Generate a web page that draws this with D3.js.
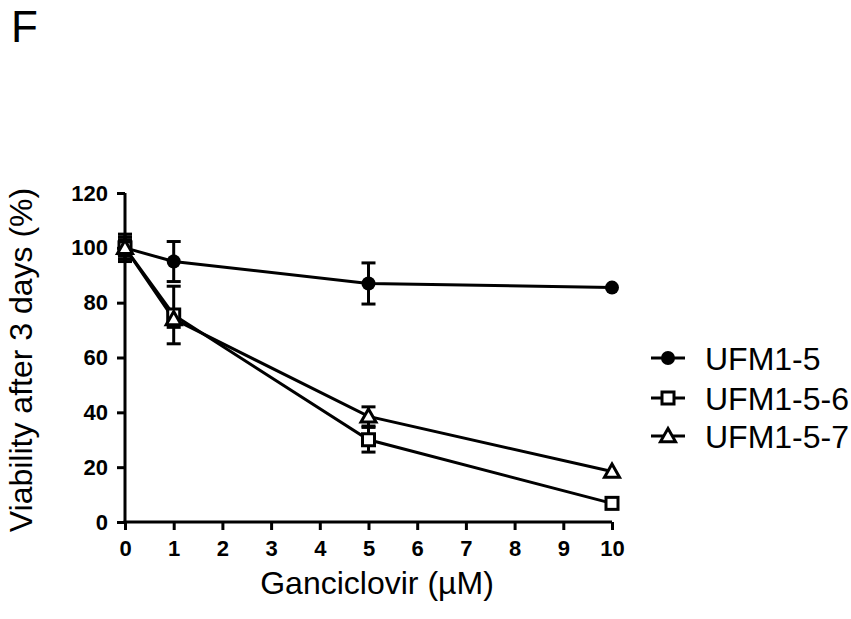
<!DOCTYPE html>
<html>
<head>
<meta charset="utf-8">
<script src="https://d3js.org/d3.v7.min.js"></script>
<style>
body { margin: 0; background: #fff; }
text { font-family: Arial, "Liberation Sans", sans-serif; fill: #000; }
</style>
</head>
<body>
<svg id="chart" width="851" height="619"></svg>
<script>
// doses and series values
var doses = [0, 1, 5, 10];
var seriesNames = ["UFM1-5", "UFM1-5-6", "UFM1-5-7"];
var symbols = ["circle", "square", "triangle"];
var ufm15 = [100, 95, 87, 85.5];
var ufm15Err = [5, 7.3, 7.5, 0];
var ufm156 = [100, 75.5, 30, 6.8];
var ufm156Err = [4, 10.5, 4.5, 0];
var ufm157 = [100, 74, 38.5, 18.4];
var ufm157Err = [3, 3, 3.5, 0];
var xTicks = [0, 1, 2, 3, 4, 5, 6, 7, 8, 9, 10];
var yTicks = [0, 20, 40, 60, 80, 100, 120];

var values = [ufm15, ufm156, ufm157];
var errors = [ufm15Err, ufm156Err, ufm157Err];

var svg = d3.select("#chart");

var x = d3.scaleLinear().domain([0, 10]).range([125, 612]);
var y = d3.scaleLinear().domain([0, 120]).range([522, 193]);

// panel letter
svg.append("text")
    .attr("x", 11).attr("y", 42)
    .style("font-size", "44px")
    .text("F");

// axes
var xAxis = svg.append("g")
    .attr("transform", "translate(0," + y(0) + ")")
    .call(d3.axisBottom(x).tickValues(xTicks).tickSize(8).tickPadding(10).tickSizeOuter(0));
var yAxis = svg.append("g")
    .attr("transform", "translate(" + x(0) + ",0)")
    .call(d3.axisLeft(y).tickValues(yTicks).tickSize(8).tickPadding(9).tickSizeOuter(0));

[xAxis, yAxis].forEach(function(a) {
  a.attr("font-family", null).attr("font-size", null);
  a.selectAll("path.domain").attr("stroke", "#000").attr("stroke-width", 3);
  a.selectAll(".tick line").attr("stroke", "#000").attr("stroke-width", 3);
  a.selectAll(".tick text")
    .attr("fill", "#000")
    .style("font-family", "Arial, 'Liberation Sans', sans-serif")
    .style("font-weight", "bold")
    .style("font-size", "22px");
});
xAxis.select("path.domain").attr("d", "M" + (x(0) - 1.5) + ",0H" + x(10));
yAxis.select("path.domain").attr("d", "M0," + (y(0) + 1.5) + "V" + y(120));

// axis titles
svg.append("text")
    .attr("x", 377).attr("y", 594)
    .attr("text-anchor", "middle")
    .style("font-size", "32px")
    .text("Ganciclovir (µM)");

svg.append("text")
    .attr("transform", "translate(32,360) rotate(-90)")
    .attr("text-anchor", "middle")
    .style("font-size", "32px")
    .text("Viability after 3 days (%)");

// marker drawer
function drawMarker(g, type, cx, cy) {
  if (type === "circle") {
    g.append("circle").attr("cx", cx).attr("cy", cy).attr("r", 7)
      .attr("fill", "#000");
  } else if (type === "square") {
    g.append("rect").attr("x", cx - 6).attr("y", cy - 6)
      .attr("width", 12).attr("height", 12)
      .attr("fill", "#fff").attr("stroke", "#000").attr("stroke-width", 3);
  } else {
    var s = 7.5;
    g.append("path")
      .attr("d", "M" + cx + "," + (cy - s) + "L" + (cx + s) + "," + (cy + s * 0.75) + "L" + (cx - s) + "," + (cy + s * 0.75) + "Z")
      .attr("fill", "#fff").attr("stroke", "#000").attr("stroke-width", 3)
      .attr("stroke-linejoin", "miter");
  }
}

var line = d3.line()
    .x(function(d) { return x(d[0]); })
    .y(function(d) { return y(d[1]); });

var plot = svg.append("g");

// error bars
values.forEach(function(vals, si) {
  doses.forEach(function(dz, i) {
    var e = errors[si][i];
    if (!e) return;
    var cx = x(dz);
    var g = plot.append("g").attr("stroke", "#000").attr("stroke-width", 3);
    g.append("line").attr("x1", cx).attr("x2", cx)
      .attr("y1", y(vals[i] - e)).attr("y2", y(vals[i] + e));
    [vals[i] - e, vals[i] + e].forEach(function(v) {
      g.append("line").attr("x1", cx - 7).attr("x2", cx + 7)
        .attr("y1", y(v)).attr("y2", y(v));
    });
  });
});

// lines
values.forEach(function(vals) {
  plot.append("path")
    .datum(doses.map(function(dz, i) { return [dz, vals[i]]; }))
    .attr("fill", "none")
    .attr("stroke", "#000")
    .attr("stroke-width", 3)
    .attr("d", line);
});

// markers
values.forEach(function(vals, si) {
  doses.forEach(function(dz, i) {
    drawMarker(plot, symbols[si], x(dz), y(vals[i]));
  });
});

// legend
var legendY = [358, 398, 436];
seriesNames.forEach(function(name, i) {
  var g = svg.append("g");
  g.append("line").attr("x1", 651).attr("x2", 685)
    .attr("y1", legendY[i]).attr("y2", legendY[i])
    .attr("stroke", "#000").attr("stroke-width", 3);
  drawMarker(g, symbols[i], 668, legendY[i]);
  g.append("text")
    .attr("x", 705).attr("y", legendY[i] + 12)
    .style("font-size", "32px")
    .text(name);
});
</script>
</body>
</html>
